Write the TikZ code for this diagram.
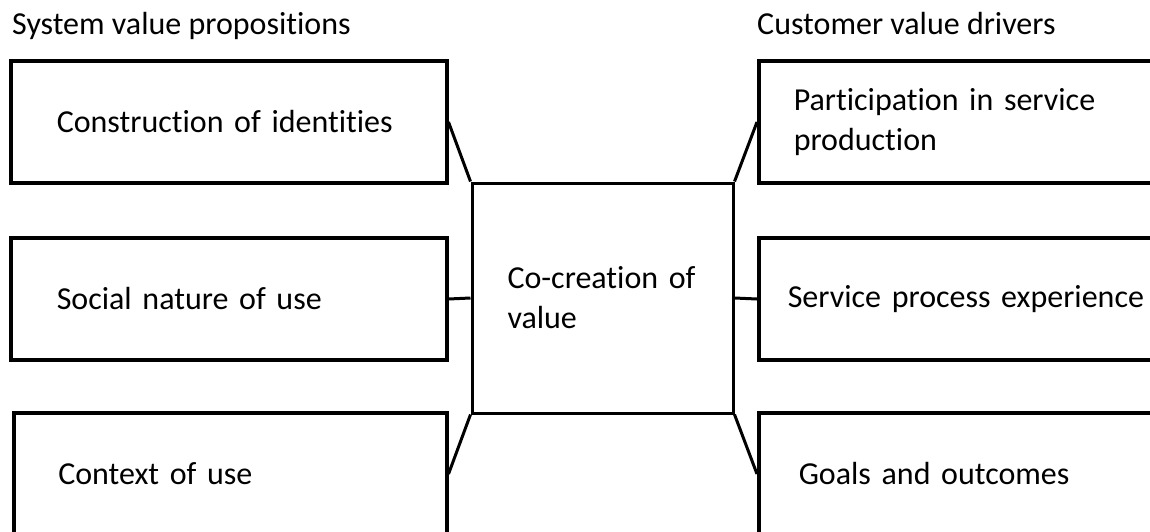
\documentclass[tikz,border=0pt]{standalone}
\usepackage{fontspec}
\setmainfont{Carlito}[Ligatures=NoCommon]
\begin{document}
\begin{tikzpicture}[x=1pt,y=-1pt,font=\fontsize{32}{40}\selectfont,
  box/.style={draw,line width=3.5pt,minimum height=122pt,inner ysep=0pt,align=left,anchor=west},
  lbox/.style={box,text width=344pt,inner xsep=46pt},
  rbox/.style={box,text width=380pt,inner xsep=35pt},
  link/.style={line width=3pt}]
\clip (0,0) rectangle (1150,532);
% headings
\node[anchor=base west,inner sep=0pt] (sv) at (12,35) {System value propositions};
\node[anchor=base west,inner sep=0pt] (cv) at (757,35) {Customer value drivers};
% centre
\node[draw,line width=3pt,minimum width=261pt,minimum height=230pt,text width=190pt,inner xsep=35.5pt,align=left] (cc) at (602.5,298) {Co-creation of\\value};
% left column
\node[lbox] (ci) at (9,122) {Construction of identities};
\node[lbox] (sn) at (9,299) {Social nature of use};
\node[lbox,inner xsep=44.5pt] (cu) at (12,474) {Context of use};
% right column
\node[rbox] (ps) at (757,122) {Participation in service\\production};
\node[rbox,inner xsep=29pt] (sp) at (757,299) {Service process experience};
\node[rbox,inner xsep=40pt] (go) at (757,474) {Goals and outcomes};
% links
\draw[link](ci.east)--(cc.north west);
\draw[link](sn.east)--(cc.west);
\draw[link](cu.east)--(cc.south west);
\draw[link](cc.north east)--(ps.west);
\draw[link](cc.east)--(sp.west);
\draw[link](cc.south east)--(go.west);
\end{tikzpicture}
\end{document}
